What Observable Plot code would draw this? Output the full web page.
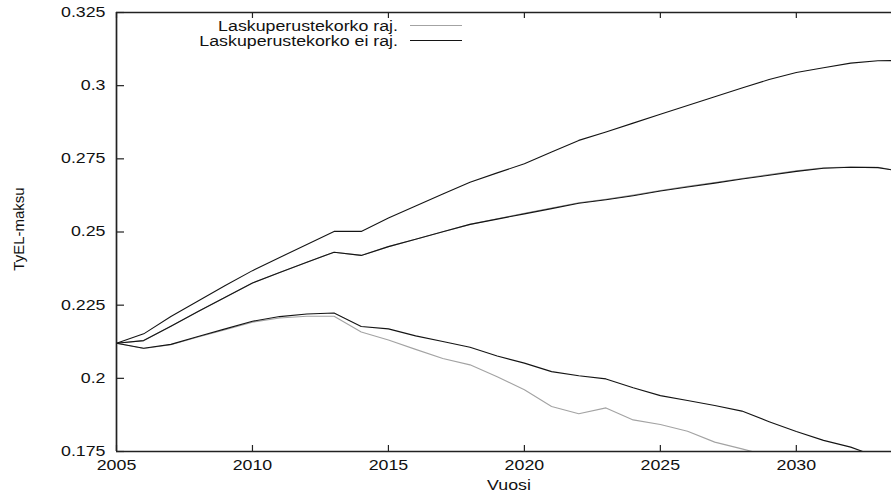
<!DOCTYPE html>
<html>
<head>
<meta charset="utf-8">
<script src="https://cdn.jsdelivr.net/npm/d3@7"></script>
<script src="https://cdn.jsdelivr.net/npm/@observablehq/plot@0.6"></script>
<style>
  html, body { margin: 0; padding: 0; background: #fff; }
  svg text { font-family: "Liberation Sans", Arial, sans-serif; }
</style>
</head>
<body>
<div id="chart"></div>
<script>
// TyEL contribution projections, two discount-rate assumptions
const years = d3.range(2005, 2035);

// "Laskuperustekorko ei raj." — three scenarios
const eiRajHigh = [0.2120, 0.2152, 0.2211, 0.2264, 0.2317, 0.2368, 0.2413, 0.2457, 0.2502, 0.2502,
                   0.2548, 0.2589, 0.2630, 0.2670, 0.2702, 0.2733, 0.2773, 0.2813, 0.2842, 0.2872,
                   0.2902, 0.2932, 0.2962, 0.2992, 0.3021, 0.3045, 0.3061, 0.3077, 0.3085, 0.3086];
const eiRajMid  = [0.2120, 0.2129, 0.2178, 0.2228, 0.2277, 0.2326, 0.2362, 0.2397, 0.2431, 0.2420,
                   0.2450, 0.2475, 0.2501, 0.2526, 0.2544, 0.2562, 0.2580, 0.2598, 0.2610, 0.2624,
                   0.2640, 0.2654, 0.2667, 0.2681, 0.2694, 0.2707, 0.2718, 0.2721, 0.2720, 0.2705];
const eiRajLow  = [0.2120, 0.2103, 0.2116, 0.2143, 0.2169, 0.2195, 0.2211, 0.2220, 0.2223, 0.2177,
                   0.2169, 0.2145, 0.2126, 0.2106, 0.2076, 0.2052, 0.2023, 0.2009, 0.1998, 0.1968,
                   0.1941, 0.1924, 0.1907, 0.1888, 0.1852, 0.1818, 0.1788, 0.1765, 0.1731, 0.1700];

// "Laskuperustekorko raj." — two scenarios
const rajMid    = [0.2120, 0.2129, 0.2178, 0.2228, 0.2277, 0.2326, 0.2362, 0.2397, 0.2431, 0.2420,
                   0.2450, 0.2475, 0.2501, 0.2526, 0.2545, 0.2564, 0.2582, 0.2600, 0.2612, 0.2626,
                   0.2642, 0.2656, 0.2669, 0.2683, 0.2696, 0.2709, 0.2719, 0.2722, 0.2721, 0.2706];
const rajLow    = [0.2120, 0.2102, 0.2115, 0.2141, 0.2166, 0.2192, 0.2206, 0.2212, 0.2212, 0.2158,
                   0.2131, 0.2099, 0.2068, 0.2046, 0.2005, 0.1961, 0.1904, 0.1879, 0.1899, 0.1858,
                   0.1842, 0.1819, 0.1782, 0.1759, 0.1735];

const legendLabels = ["Laskuperustekorko raj.", "Laskuperustekorko ei raj."];
const xTicks = [2005, 2010, 2015, 2020, 2025, 2030];
const xTickLabels = ["2005", "2010", "2015", "2020", "2025", "2030"];
const yTicks = [0.175, 0.2, 0.225, 0.25, 0.275, 0.3, 0.325];
const yTickLabels = ["0.175", "0.2", "0.225", "0.25", "0.275", "0.3", "0.325"];
const xLabel = "Vuosi";
const yLabel = "TyEL-maksu";

const GRAY = "#a3a3a3";
const BLACK = "#141414";
const INK = "#222";

function rows(values, series, scenario) {
  return values.map((v, i) => ({year: years[i], value: v, series, scenario}));
}
const grayRows = [...rows(rajMid, legendLabels[0], "mid"), ...rows(rajLow, legendLabels[0], "low")];
const blackRows = [...rows(eiRajHigh, legendLabels[1], "high"), ...rows(eiRajMid, legendLabels[1], "mid"),
                   ...rows(eiRajLow, legendLabels[1], "low")];

const W = 891, H = 493;
const mL = 116, mR = 0, mT = 12, mB = 42;
const innerW = W - mL - mR, innerH = H - mT - mB;

const xLabelOf = new Map(xTicks.map((t, i) => [t, xTickLabels[i]]));
const yLabelOf = new Map(yTicks.map((t, i) => [t, yTickLabels[i]]));

const chart = Plot.plot({
  width: W, height: H,
  marginLeft: mL, marginRight: mR, marginTop: mT, marginBottom: mB,
  x: {domain: [2005, 2033.5]},
  y: {domain: [0.175, 0.325]},
  style: {fontFamily: "Liberation Sans, Arial, sans-serif", fontSize: "14px", color: "#111", background: "white"},
  marks: [
    Plot.line(grayRows, {x: "year", y: "value", z: "scenario", stroke: GRAY, strokeWidth: 1.1, clip: true}),
    Plot.line(blackRows, {x: "year", y: "value", z: "scenario", stroke: BLACK, strokeWidth: 1.1, clip: true}),
    // inward ticks: left, bottom and mirrored top
    Plot.tickY(yTicks, {y: d => d, stroke: INK, strokeWidth: 1.2, insetRight: innerW - 8}),
    Plot.tickX(xTicks, {x: d => d, stroke: INK, strokeWidth: 1.2, insetTop: innerH - 6}),
    Plot.tickX(xTicks, {x: d => d, stroke: INK, strokeWidth: 1.2, insetBottom: innerH - 6}),
    // border on left, top and bottom
    Plot.ruleX([2005], {stroke: INK, strokeWidth: 1.7}),
    Plot.ruleY([0.175, 0.325], {stroke: INK, strokeWidth: 1.6}),
    Plot.axisY({ticks: yTicks, tickSize: 0, tickPadding: 11, tickFormat: d => yLabelOf.get(d), label: null, fontSize: 14}),
    Plot.axisX({ticks: xTicks, tickSize: 0, tickPadding: 9, tickFormat: d => xLabelOf.get(d), label: null, fontSize: 14})
  ]
});

document.getElementById("chart").appendChild(chart);

const svg = d3.select(chart);

// axis titles
svg.append("text")
  .attr("x", 509).attr("y", 489.5)
  .attr("text-anchor", "middle")
  .attr("font-size", 14).attr("fill", "#111")
  .attr("class", "stretch")
  .text(xLabel);

svg.append("text")
  .attr("transform", "translate(24,229) rotate(-90)")
  .attr("text-anchor", "middle")
  .attr("font-size", 15).attr("fill", "#111")
  .text(yLabel);

// key in the upper part of the frame
const legend = svg.append("g");
[GRAY, BLACK].forEach((color, i) => {
  const y = 25.5 + i * 15;
  legend.append("text")
    .attr("x", 398).attr("y", y + 5)
    .attr("text-anchor", "end")
    .attr("font-size", 14).attr("fill", "#111")
    .attr("class", "stretch")
    .text(legendLabels[i]);
  legend.append("line")
    .attr("x1", 410).attr("x2", 462)
    .attr("y1", y).attr("y2", y)
    .attr("stroke", color).attr("stroke-width", 1.1);
});

// wide lettering for horizontal text
const widen = 1.27;
svg.selectAll("g[aria-label='x-axis tick label'] text, g[aria-label='y-axis tick label'] text, text.stretch")
  .each(function() {
    const len = this.getComputedTextLength();
    this.setAttribute("textLength", (len * widen).toFixed(2));
    this.setAttribute("lengthAdjust", "spacingAndGlyphs");
  });
</script>
</body>
</html>
